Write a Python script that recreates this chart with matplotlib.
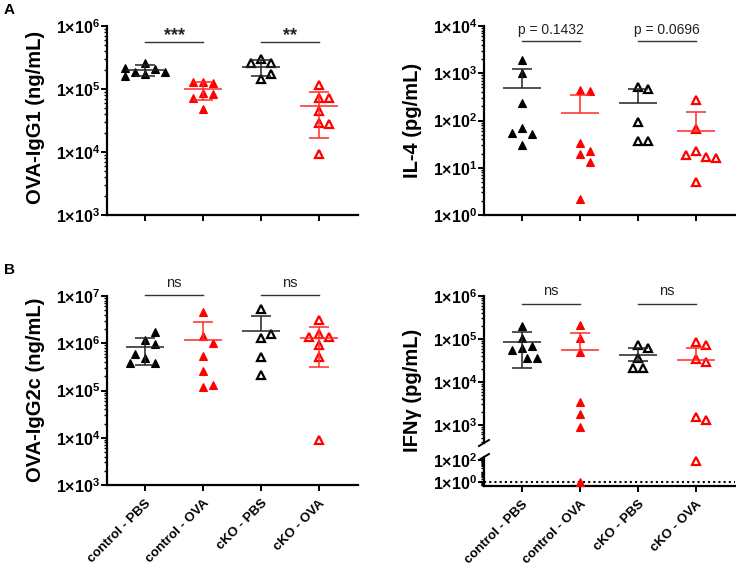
import matplotlib
matplotlib.use('Agg')
import matplotlib.pyplot as plt
import numpy as np
from matplotlib.ticker import FixedLocator, LogLocator, FuncFormatter, NullFormatter

plt.rcParams['font.family'] = ['Liberation Sans', 'DejaVu Sans']
plt.rcParams['mathtext.default'] = 'regular'

groups = ['control - PBS', 'control - OVA', 'cKO - PBS', 'cKO - OVA']
colors = ['black', 'red', 'black', 'red']
filled = [True, True, False, False]

# A left: OVA-IgG1 (ng/mL)
igg1 = [
    [1.73e5, 2.07e5, 2.63e5, 1.83e5, 1.83e5, 2.15e5, 1.58e5],
    [1.27e5, 1.24e5, 1.27e5, 8.6e4, 8.3e4, 7.2e4, 4.8e4],
    [2.98e5, 2.57e5, 2.57e5, 1.44e5, 1.75e5],
    [1.17e5, 7.2e4, 7.2e4, 4.55e4, 2.9e4, 2.8e4, 9.2e3],
]
igg1_mean = [1.97e5, 1.0e5, 2.22e5, 5.3e4]
igg1_hi = [2.37e5, 1.3e5, 2.84e5, 9.0e4]
igg1_lo = [1.62e5, 6.6e4, 1.62e5, 1.68e4]

# A right: IL-4 (pg/mL)
il4 = [
    [1.91e3, 1.0e3, 232, 71, 52, 54, 30],
    [445, 430, 34, 19.8, 22.9, 13.2, 2.2],
    [506, 459, 91, 36, 36],
    [273, 67, 23, 17.3, 18.8, 16, 4.9],
]
il4_mean = [482, 143, 229, 59]
il4_hi = [1.22e3, 348, 474, 150]
il4_lo = [None, None, None, None]

# B left: OVA-IgG2c (ng/mL)
igg2c = [
    [1.18e6, 1.69e6, 9.7e5, 4.85e5, 6.0e5, 3.9e5, 3.9e5],
    [4.5e6, 1.39e6, 1.0e6, 5.4e5, 2.6e5, 1.17e5, 1.33e5],
    [5.2e6, 1.28e6, 1.56e6, 5.1e5, 2.16e5],
    [3.1e6, 1.56e6, 1.35e6, 1.35e6, 9.0e5, 5.1e5, 8.8e3],
]
igg2c_mean = [8.3e5, 1.18e6, 1.8e6, 1.28e6]
igg2c_hi = [1.32e6, 2.8e6, 3.8e6, 2.25e6]
igg2c_lo = [3.5e5, None, None, 3.1e5]

# B right: IFNg (pg/mL), broken axis
ifng = [
    [2.05e5, 6.1e4, 1.05e5, 6.9e4, 5.6e4, 3.6e4, 3.7e4],
    [2.1e5, 1.05e5, 5.1e4, 3.4e3, 1.8e3, 880, 1.0],
    [7.2e4, 6.3e4, 3.6e4, 2.15e4, 2.15e4],
    [8.6e4, 7.2e4, 3.4e4, 2.9e4, 1.5e3, 1.27e3, 90],
]
ifng_mean = [8.6e4, 5.6e4, 4.3e4, 3.2e4]
ifng_hi = [1.48e5, 1.38e5, 6.3e4, 6.3e4]
ifng_lo = [2.15e4, None, 3.1e4, None]

sig_igg1 = ['***', '**']
sig_il4 = ['p = 0.1432', 'p = 0.0696']
sig_ns = ['ns', 'ns']

W, H = 736, 571
fig = plt.figure(figsize=(W / 100, H / 100), dpi=100)


def box(left, top, right, bottom):
    return [left / W, 1 - bottom / H, (right - left) / W, (bottom - top) / H]


XL = (-0.66, 3.68)


def setup(ax, ylo, yhi, majors, xlabels=False, xaxis=True):
    ax.set_yscale('log')
    ax.set_ylim(ylo, yhi)
    ax.set_xlim(*XL)
    ax.spines[['top', 'right']].set_visible(False)
    ax.spines[['left', 'bottom']].set_linewidth(1.6)
    ax.yaxis.set_major_locator(FixedLocator(majors))
    ax.yaxis.set_minor_locator(LogLocator(base=10, subs=np.arange(2, 10), numticks=100))
    ax.yaxis.set_major_formatter(FuncFormatter(
        lambda v, p: '1×10$^{%d}$' % int(round(np.log10(v)))))
    ax.yaxis.set_minor_formatter(NullFormatter())
    ax.tick_params(axis='y', which='major', length=4, width=1.4, labelsize=11.5, pad=1)
    ax.tick_params(axis='y', which='minor', length=2.5, width=1)
    for t in ax.get_yticklabels():
        t.set_fontweight('bold')
    if xaxis:
        ax.set_xticks(range(4))
        ax.tick_params(axis='x', length=4, width=1.4)
        if xlabels:
            ax.set_xticklabels(groups, rotation=45, ha='right', rotation_mode='anchor',
                               fontsize=9.5, fontweight='bold')
            ax.tick_params(axis='x', pad=5)
        else:
            ax.set_xticklabels([])
    else:
        ax.spines['bottom'].set_visible(False)
        ax.set_xticks([])


def swarm(ax, x0, vals, d=9.0):
    pts = ax.transData.transform(np.column_stack([np.full(len(vals), x0), vals]))
    placed = []
    for px, py in pts:
        for k in [0, 1, -1, 2, -2, 3, -3, 4, -4]:
            cx = px + k * d / 2
            if all(np.hypot(cx - qx, py - qy) >= d for qx, qy in placed):
                break
        placed.append((cx, py))
    return ax.transData.inverted().transform(np.array(placed))[:, 0]


def points(ax, vals_list, ylo, yhi):
    for i, vals in enumerate(vals_list):
        v = np.array([x for x in vals if ylo <= x <= yhi])
        if len(v) == 0:
            continue
        xs = swarm(ax, i, v, d=10.0)
        c = colors[i]
        ax.plot(xs, v, ls='none', marker='^', ms=6.2 if filled[i] else 5.8,
                mfc=c if filled[i] else 'white', mec=c,
                mew=0.8 if filled[i] else 1.6, zorder=3, clip_on=False)


def mean_sd(ax, means, his, los):
    for i in range(4):
        c = colors[i]
        lc = '#222222' if c == 'black' else '#ff2a2a'
        m, hi, lo = means[i], his[i], los[i]
        ax.hlines(m, i - 0.33, i + 0.33, color=lc, lw=1.1, zorder=4)
        ax.vlines(i, lo if lo else m, hi, color=lc, lw=1.1, zorder=4)
        ax.hlines(hi, i - 0.17, i + 0.17, color=lc, lw=1.1, zorder=4)
        if lo:
            ax.hlines(lo, i - 0.17, i + 0.17, color=lc, lw=1.1, zorder=4)


def brackets(ax, texts, y, off, size, weight='normal'):
    for k, t in enumerate(texts):
        a, b = 2 * k, 2 * k + 1
        ax.plot([a, b], [y, y], color='#333333', lw=1, clip_on=False)
        ax.annotate(t, xy=((a + b) / 2, y), xytext=(0, off), textcoords='offset points',
                    ha='center', va='baseline', fontsize=size, fontweight=weight,
                    color='#222222', annotation_clip=False)


def ylabel(x_px, y_px, text):
    fig.text(x_px / W, 1 - y_px / H, text, rotation=90, ha='center', va='center',
             fontsize=14.5, fontweight='bold')


# ---- A left
ax1 = fig.add_axes(box(107, 26, 358, 215))
setup(ax1, 1e3, 1e6, [1e3, 1e4, 1e5, 1e6])
points(ax1, igg1, 1e3, 1e6)
mean_sd(ax1, igg1_mean, igg1_hi, igg1_lo)
brackets(ax1, sig_igg1, 5.6e5, 1, 13, 'bold')
ylabel(36, 117, 'OVA-IgG1 (ng/mL)')

# ---- A right
ax2 = fig.add_axes(box(484, 26, 735, 215))
setup(ax2, 1e0, 1e4, [1e0, 1e1, 1e2, 1e3, 1e4])
points(ax2, il4, 1e0, 1e4)
mean_sd(ax2, il4_mean, il4_hi, il4_lo)
brackets(ax2, sig_il4, 4.8e3, 5, 10)
ylabel(413, 120, 'IL-4 (pg/mL)')

# ---- B left
ax3 = fig.add_axes(box(107, 296, 358, 485))
setup(ax3, 1e3, 1e7, [1e3, 1e4, 1e5, 1e6, 1e7], xlabels=True)
points(ax3, igg2c, 1e3, 1e7)
mean_sd(ax3, igg2c_mean, igg2c_hi, igg2c_lo)
brackets(ax3, sig_ns, 1.05e7, 6, 10.5)
ylabel(36, 390, 'OVA-IgG2c (ng/mL)')

# ---- B right (broken axis)
ax4 = fig.add_axes(box(484, 296, 735, 443))
setup(ax4, 10 ** 2.58, 1e6, [1e3, 1e4, 1e5, 1e6], xaxis=False)
ax5 = fig.add_axes(box(484, 457, 735, 486))
setup(ax5, 10 ** -0.35, 10 ** 2.3, [1e0, 1e2], xlabels=True)
points(ax4, ifng, 10 ** 2.58, 1e6)
points(ax5, ifng, 10 ** -0.35, 10 ** 2.3)
mean_sd(ax4, ifng_mean, ifng_hi, ifng_lo)
ax5.axhline(1, color='black', ls=(0, (1, 1.5)), lw=1.5, zorder=1)
brackets(ax4, sig_ns, 6.6e5, 6, 10.5)
ylabel(413, 390, 'IFNγ (pg/mL)')

# break marks
for ax, yy, hh in [(ax4, 0, 147), (ax5, 1, 29)]:
    dx, dy = 5 / 251, 3 / hh
    ax.plot([-dx, dx], [yy - dy, yy + dy], transform=ax.transAxes, color='black',
            lw=1.4, clip_on=False)

fig.text(4 / W, 1 - 10 / H, 'A', fontsize=11, fontweight='bold', va='center')
fig.text(4 / W, 1 - 270 / H, 'B', fontsize=11, fontweight='bold', va='center')

fig.savefig('out.png', dpi=100)
